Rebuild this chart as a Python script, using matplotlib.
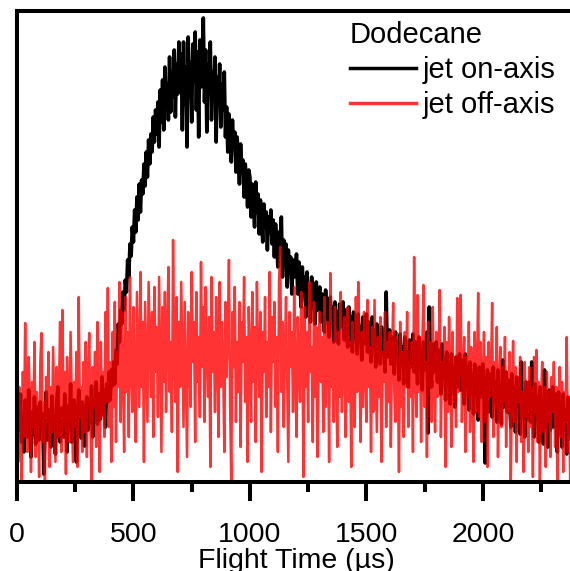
import numpy as np
import matplotlib
matplotlib.use("Agg")
import matplotlib.pyplot as plt

plt.rcParams['font.family'] = ['Liberation Sans', 'DejaVu Sans']

# flight time grid, 5 us steps, one row = 100 us
t_us = np.arange(0, 2405, 5)

# jet on-axis signal (arbitrary units)
on_axis = [
    35, 78, 52, 88, 40, 65, 30, 82, 58, 45, 92, 55, 25, 70, 48, 85, 38, 62, 75, 42,
    80, 50, 68, 8, 55, 90, 42, 72, 60, 35, 86, 48, 66, 28, 78, 95, 52, 40, 74, 58,
    45, 88, 62, 30, 76, 55, 98, 40, 70, 82, 50, 20, 68, 92, 58, 44, 80, 65, 36, 72,
    85, 52, 78, 60, 96, 45, 82, 70, 100, 58, 88, 62, 75, 105, 68, 92, 55, 98, 80, 110,
    82, 112, 96, 120, 98, 132, 118, 158, 140, 172, 158, 190, 172, 202, 190, 222, 205, 238, 226, 255,
    240, 272, 250, 285, 262, 298, 270, 302, 288, 318, 296, 330, 305, 342, 318, 348, 330, 365, 340, 372,
    348, 380, 335, 392, 360, 402, 352, 415, 375, 398, 362, 425, 370, 410, 385, 432, 365, 418, 388, 440,
    395, 428, 352, 440, 378, 415, 335, 445, 390, 420, 360, 438, 402, 450, 372, 430, 345, 442, 395, 425,
    464, 380, 432, 350, 418, 395, 440, 362, 410, 385, 425, 340, 405, 378, 418, 355, 398, 372, 410, 345,
    375, 330, 368, 345, 320, 362, 335, 350, 310, 345, 325, 298, 338, 312, 322, 285, 318, 300, 275, 312,
    305, 265, 298, 280, 255, 300, 270, 288, 248, 282, 262, 240, 278, 258, 270, 232, 265, 250, 272, 238,
    262, 225, 258, 240, 215, 250, 232, 265, 205, 242, 222, 238, 195, 232, 215, 225, 188, 222, 205, 212,
    228, 188, 220, 196, 175, 215, 190, 205, 165, 210, 185, 198, 160, 205, 178, 192, 158, 200, 172, 185,
    195, 160, 188, 170, 150, 192, 165, 180, 145, 185, 162, 175, 140, 180, 158, 170, 138, 178, 155, 168,
    180, 142, 172, 150, 135, 175, 148, 165, 130, 170, 145, 160, 128, 168, 140, 155, 122, 165, 138, 150,
    168, 130, 160, 140, 120, 165, 135, 152, 115, 158, 132, 148, 118, 155, 128, 145, 110, 190, 125, 142,
    152, 118, 145, 128, 108, 150, 122, 140, 102, 148, 120, 135, 98, 145, 118, 130, 95, 142, 115, 128,
    148, 110, 140, 120, 98, 145, 115, 132, 92, 140, 112, 130, 150, 49, 175, 118, 95, 138, 110, 125,
    140, 100, 132, 112, 88, 138, 105, 125, 82, 130, 102, 118, 78, 128, 98, 115, 75, 125, 95, 110,
    128, 92, 122, 100, 78, 128, 95, 115, 72, 120, 90, 108, 68, 118, 88, 105, 62, 115, 85, 100,
    118, 80, 19, 95, 112, 70, 108, 88, 65, 115, 82, 100, 60, 112, 78, 95, 58, 122, 75, 92,
    110, 70, 102, 80, 55, 108, 72, 95, 50, 105, 68, 88, 48, 120, 65, 85, 45, 100, 62, 82,
    100, 60, 120, 72, 45, 98, 62, 85, 40, 95, 58, 80, 38, 112, 55, 75, 35, 92, 52, 70,
    95, 55, 88, 65, 30, 90, 58, 78, 35, 88, 52, 72, 28, 85, 50, 70, 32, 82, 48, 65,
    60,
]

# jet off-axis signal (arbitrary units)
off_axis = [
    140, 20, 95, 60, 0, 110, 45, 159, 70, 30, 125, 85, 10, 100, 55, 140, 25, 90, 65, 5,
    120, 149, 40, 80, 0, 105, 60, 130, 15, 95, 50, 135, 75, 20, 115, 45, 88, 160, 30, 172,
    60, 110, 8, 125, 70, 40, 150, 85, 20, 100, 55, 130, 15, 185, 65, 95, 30, 120, 50, 140,
    25, 105, 149, 60, 0, 115, 75, 130, 35, 160, 90, 10, 140, 65, 110, 45, 170, 80, 194, 55,
    120, 20, 150, 75, 180, 40, 130, 95, 200, 60, 170, 110, 30, 185, 90, 150, 45, 205, 120, 70,
    175, 100, 40, 190, 130, 75, 210, 95, 160, 20, 180, 120, 60, 200, 140, 85, 170, 45, 195, 110,
    155, 65, 205, 120, 30, 175, 100, 190, 70, 150, 215, 90, 140, 50, 242, 125, 80, 185, 10, 160,
    95, 200, 130, 55, 180, 105, 25, 170, 140, 75, 210, 120, 160, 40, 190, 100, 145, 65, 220, 115,
    175, 60, 195, 130, 85, 165, 15, 205, 110, 150, 70, 185, 125, 45, 200, 95, 160, 120, 30, 180,
    105, 150, 222, 75, 0, 170, 115, 195, 60, 140, 90, 180, 35, 160, 120, 205, 80, 145, 20, 175,
    125, 60, 190, 100, 155, 40, 200, 130, 85, 170, 10, 150, 110, 185, 65, 140, 95, 210, 50, 165,
    120, 180, 75, 145, 30, 200, 235, 90, 160, 55, 130, 185, 100, 20, 170, 115, 150, 70, 195, 105,
    45, 165, 125, 80, 190, 140, 5, 175, 95, 150, 60, 200, 110, 135, 40, 180, 85, 155, 25, 120,
    170, 100, 145, 50, 185, 75, 130, 160, 20, 209, 95, 140, 60, 175, 110, 35, 150, 85, 190, 70,
    130, 165, 45, 120, 175, 80, 140, 15, 160, 100, 55, 185, 90, 200, 125, 40, 150, 75, 170, 110,
    60, 182, 95, 135, 30, 155, 70, 182, 115, 50, 145, 85, 165, 20, 130, 100, 170, 55, 140, 80,
    150, 35, 125, 179, 90, 60, 145, 105, 10, 160, 75, 130, 45, 150, 95, 170, 55, 120, 85, 140,
    30, 225, 110, 65, 187, 90, 145, 40, 135, 197, 75, 120, 25, 160, 95, 140, 60, 175, 100, 50,
    150, 85, 130, 192, 45, 120, 95, 155, 15, 140, 70, 165, 110, 35, 150, 80, 125, 55, 184, 90,
    130, 187, 60, 110, 145, 30, 125, 85, 160, 50, 135, 95, 20, 150, 70, 115, 189, 65, 140, 40,
    105, 150, 60, 125, 15, 140, 85, 110, 179, 45, 120, 75, 155, 25, 100, 135, 55, 115, 80, 145,
    35, 110, 70, 130, 0, 95, 141, 60, 115, 20, 105, 80, 125, 40, 90, 10, 120, 65, 100, 30,
    115, 55, 95, 5, 125, 70, 132, 40, 100, 0, 85, 120, 50, 95, 15, 110, 60, 90, 25, 105,
    70, 120, 35, 95, 0, 80, 115, 45, 100, 10, 90, 60, 145, 30, 85, 0, 105, 55, 75, 20,
    90,
]

fig = plt.figure(figsize=(5.70, 5.71), dpi=100)
ax = fig.add_axes([17 / 570, 89 / 571, 559 / 570, 471 / 571])

ax.plot(t_us, on_axis, color='black', lw=2.6, label='jet on-axis')
ax.plot(t_us, off_axis, color='red', alpha=0.8, lw=1.8, label='jet off-axis')

ax.set_xlim(0, 2400)
ax.set_ylim(0, 471)
ax.set_yticks([])
ax.set_xticks([0, 500, 1000, 1500, 2000])
ax.set_xticks([250, 750, 1250, 1750, 2250], minor=True)

for s in ['left', 'bottom', 'top']:
    ax.spines[s].set_linewidth(2.9)
ax.spines['right'].set_visible(False)

ax.tick_params(axis='x', which='major', direction='out', length=14, width=2.9,
               pad=15, labelsize=20.5)
ax.tick_params(axis='x', which='minor', direction='out', length=7, width=2.9)
ax.set_xlabel('Flight Time (µs)', fontsize=20.5, labelpad=0)

leg = ax.legend(title='Dodecane', loc='upper left',
                bbox_to_anchor=(350 / 570, 0.964), bbox_transform=fig.transFigure,
                frameon=False, fontsize=21, title_fontsize=21, alignment='left',
                handlelength=2.25, handletextpad=0.25, borderpad=0,
                borderaxespad=0, labelspacing=0.25)
for line in leg.get_lines():
    line.set_linewidth(2.5)

fig.savefig('out.png', dpi=100)
